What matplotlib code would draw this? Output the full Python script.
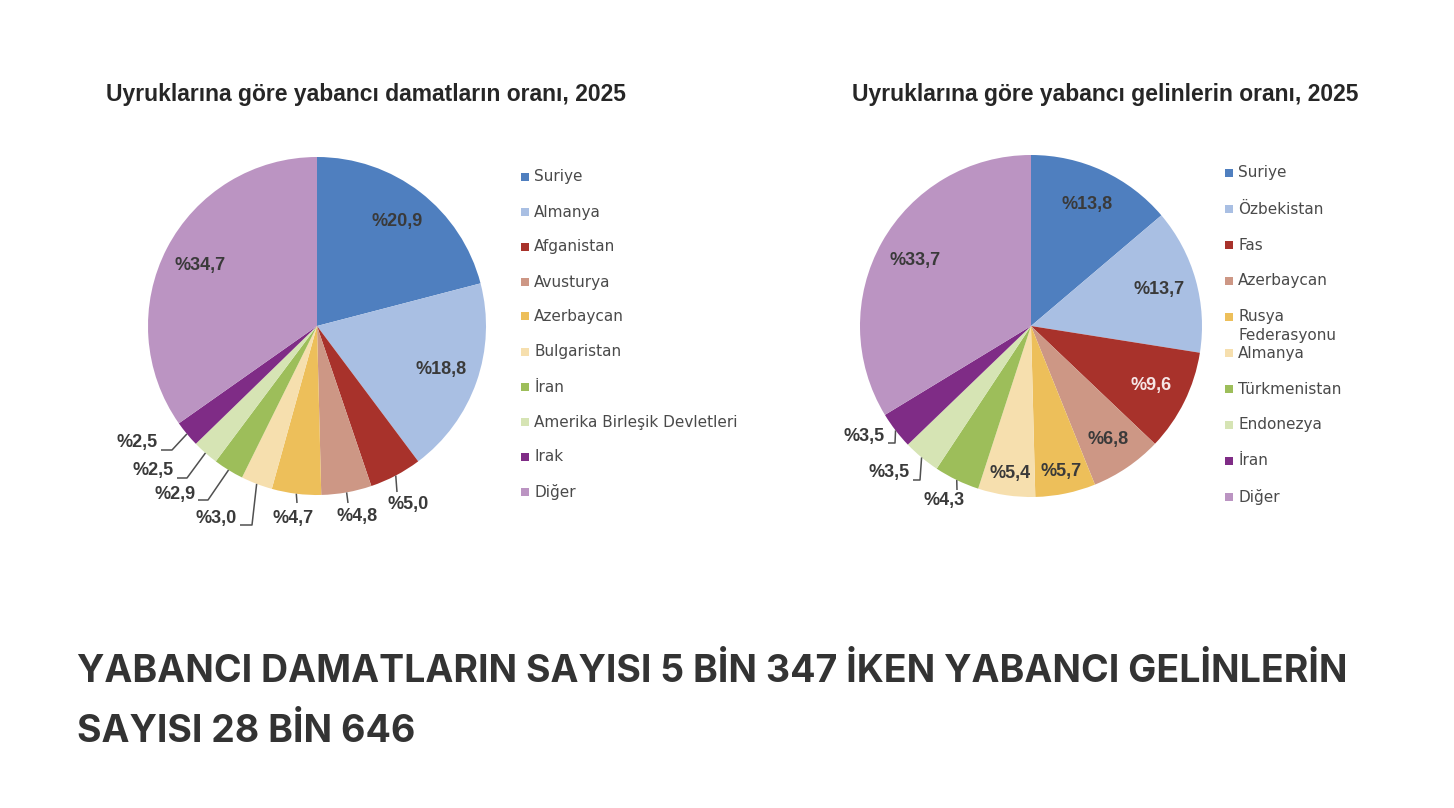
import numpy as np
import matplotlib
matplotlib.use("Agg")
import matplotlib.pyplot as plt
from matplotlib.patches import Rectangle
from matplotlib import font_manager as fm

# ---- data -------------------------------------------------------------
groom_countries = ["Suriye", "Almanya", "Afganistan", "Avusturya", "Azerbaycan",
                   "Bulgaristan", "İran", "Amerika Birleşik Devletleri", "Irak", "Diğer"]
groom_shares = [20.9, 18.8, 5.0, 4.8, 4.7, 3.0, 2.9, 2.5, 2.5, 34.7]

bride_countries = ["Suriye", "Özbekistan", "Fas", "Azerbaycan", "Rusya\nFederasyonu",
                   "Almanya", "Türkmenistan", "Endonezya", "İran", "Diğer"]
bride_shares = [13.8, 13.7, 9.6, 6.8, 5.7, 5.4, 4.3, 3.5, 3.5, 33.7]

groom_title = "Uyruklarına göre yabancı damatların oranı, 2025"
bride_title = "Uyruklarına göre yabancı gelinlerin oranı, 2025"
headline_lines = ["YABANCI DAMATLARIN SAYISI 5 BİN 347 İKEN YABANCI GELİNLERİN",
                  "SAYISI 28 BİN 646"]

slice_colors = ["#4F7FBF", "#A9BFE3", "#A8322B", "#CD9785", "#EDBF5A",
                "#F6DFAE", "#9DBE5A", "#D6E4B4", "#7F2C86", "#BB94C2"]


# ---- fonts --------------------------------------------------------------
def font_file(name, weight):
    """Pick the regular-width face of a family (skip Narrow/Condensed cuts)."""
    for f in fm.fontManager.ttflist:
        base = f.fname.lower()
        if (f.name == name and f.weight == weight and f.style == "normal"
                and "narrow" not in base and "condensed" not in base):
            return f.fname
    return None


arial_bold_path = font_file("Liberation Sans", 700)


def bold_sans(size):
    if arial_bold_path:
        return fm.FontProperties(fname=arial_bold_path, size=size)
    return fm.FontProperties(family="DejaVu Sans", weight="bold", size=size)


# ---- layout helpers -----------------------------------------------------
W, H = 1454, 808
fig = plt.figure(figsize=(W / 100, H / 100), dpi=100)
fig.patch.set_facecolor("white")


def fx(px):
    return px / W


def fy(py):
    return 1 - py / H


LABEL_PROP = bold_sans(13)
LABEL_COLOR = "#3a3a3a"
LEGEND_FONT = dict(family="DejaVu Sans", fontsize=11, color="#4a4a4a")


def fmt(v):
    return "%" + f"{v:.1f}".replace(".", ",")


def draw_pie(values, center, radius, label_specs):
    cx, cy = center
    ax = fig.add_axes([fx(cx - radius), fy(cy + radius), 2 * radius / W, 2 * radius / H])
    ax.axis("off")
    wedges, _ = ax.pie(values, colors=slice_colors, startangle=90, counterclock=False,
                       radius=1, wedgeprops=dict(linewidth=0), frame=False)
    ax.set_xlim(-1, 1)
    ax.set_ylim(-1, 1)
    ax.set_aspect("equal")

    def to_data(px, py):
        return (px - cx) / radius, (cy - py) / radius

    for w, v, spec in zip(wedges, values, label_specs):
        mid = np.deg2rad((w.theta1 + w.theta2) / 2)
        ux, uy = np.cos(mid), np.sin(mid)
        if spec[0] == "in":
            rf = spec[1]
            color = spec[2] if len(spec) > 2 else LABEL_COLOR
            ax.text(rf * ux, rf * uy, fmt(v), ha="center", va="center", color=color,
                    fontproperties=LABEL_PROP)
        else:
            _, path_px, text_px, ha = spec
            xs = [ux * 1.0]
            ys = [uy * 1.0]
            for (px, py) in path_px:
                dx, dy = to_data(px, py)
                xs.append(dx)
                ys.append(dy)
            ax.plot(xs, ys, color="#505050", lw=1.1, clip_on=False, solid_capstyle="butt")
            tx, ty = to_data(*text_px)
            ax.text(tx, ty, fmt(v), ha=ha, va="center", clip_on=False, color=LABEL_COLOR,
                    fontproperties=LABEL_PROP)
    return ax


def draw_legend(names, x_marker, y_rows):
    for name, color, yy in zip(names, slice_colors, y_rows):
        fig.patches.append(Rectangle((fx(x_marker), fy(yy + 4)), 8 / W, 8 / H,
                                     transform=fig.transFigure, facecolor=color,
                                     edgecolor="none"))
        lines = name.split("\n")
        for k, line in enumerate(lines):
            fig.text(fx(x_marker + 13), fy(yy + k * 19), line, ha="left", va="center",
                     **LEGEND_FONT)


# ---- left pie: grooms --------------------------------------------------
groom_labels = [
    ("in", 0.78),
    ("in", 0.78),
    ("out", [(397, 492)], (408, 505), "center"),
    ("out", [(348, 503)], (357, 516), "center"),
    ("out", [(297, 503)], (293, 518), "center"),
    ("out", [(252, 525), (240, 525)], (237, 518), "right"),
    ("out", [(208, 500), (198, 500)], (196, 494), "right"),
    ("out", [(187, 478), (177, 478)], (174, 471), "right"),
    ("out", [(172, 450), (161, 450)], (158, 443), "right"),
    ("in", 0.78),
]
draw_pie(groom_shares, (317, 326), 169, groom_labels)

# ---- right pie: brides -------------------------------------------------
bride_labels = [
    ("in", 0.78),
    ("in", 0.78),
    ("in", 0.78, "#F6E6E6"),
    ("in", 0.80),
    ("in", 0.87),
    ("in", 0.87),
    ("out", [(957, 490)], (944, 501), "center"),
    ("out", [(920, 480), (913, 480)], (910, 472), "right"),
    ("out", [(895, 443), (888, 443)], (885, 437), "right"),
    ("in", 0.78),
]
draw_pie(bride_shares, (1031, 326), 171, bride_labels)

# ---- legends -----------------------------------------------------------
draw_legend(groom_countries, 521, [177, 212, 247, 282, 316, 352, 387, 422, 457, 492])
draw_legend(bride_countries, 1225, [173, 209, 245, 281, 317, 353, 389, 425, 461, 497])

# ---- titles ------------------------------------------------------------
TITLE_PROP = bold_sans(16.5)
fig.text(fx(366), fy(101), groom_title, ha="center", va="baseline", color="#262626",
         fontproperties=TITLE_PROP)
fig.text(fx(1105), fy(101), bride_title, ha="center", va="baseline", color="#262626",
         fontproperties=TITLE_PROP)

# ---- headline ----------------------------------------------------------
for line, base in zip(headline_lines, [682, 742]):
    fig.text(fx(77), fy(base), line, ha="left", va="baseline", family="Inter",
             fontweight="bold", fontsize=27, color="#333333")

fig.savefig("out.png", dpi=100, facecolor="white")
